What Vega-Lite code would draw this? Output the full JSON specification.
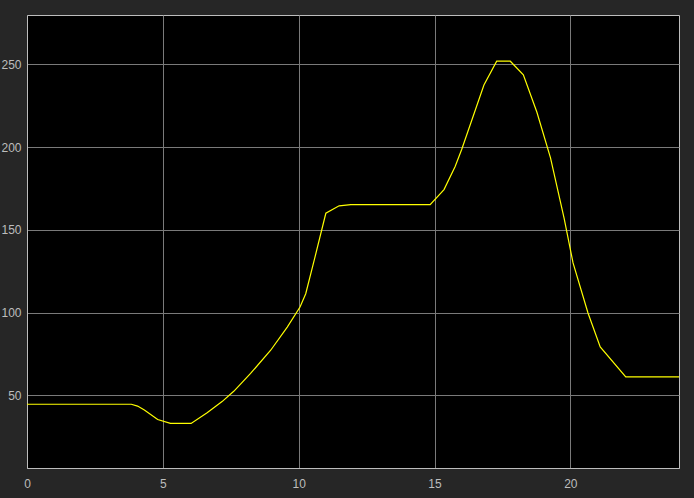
{
  "$schema": "https://vega.github.io/schema/vega-lite/v6.json",
  "width": 652,
  "height": 453,
  "autosize": {"type": "none"},
  "padding": {"left": 27, "top": 15, "right": 15, "bottom": 30},
  "background": "#262626",
  "config": {
    "view": {"fill": "#000000", "stroke": "#bdbdbd", "strokeWidth": 1},
    "axis": {
      "labelFont": "Liberation Sans",
      "labelFontSize": 12,
      "labelColor": "#bdbdbd",
      "gridColor": "#7a7a7a",
      "gridWidth": 1,
      "gridOpacity": 1,
      "domainColor": "#bdbdbd",
      "ticks": false,
      "title": null
    }
  },
  "data": {
    "values": [
      {"t": 0, "v": 44.7},
      {"t": 3.84, "v": 44.7},
      {"t": 4.07, "v": 43.6},
      {"t": 4.32, "v": 41.2},
      {"t": 4.81, "v": 35.5},
      {"t": 5.28, "v": 33.1},
      {"t": 6.04, "v": 33.1},
      {"t": 6.63, "v": 39.5},
      {"t": 7.18, "v": 46.3},
      {"t": 7.61, "v": 52.5},
      {"t": 8.23, "v": 63.3},
      {"t": 8.97, "v": 77.3},
      {"t": 9.58, "v": 91.3},
      {"t": 10.05, "v": 103.4},
      {"t": 10.26, "v": 111.4},
      {"t": 10.57, "v": 131.5},
      {"t": 11.0, "v": 160.0},
      {"t": 11.49, "v": 164.5},
      {"t": 11.92, "v": 165.2},
      {"t": 14.84, "v": 165.2},
      {"t": 15.35, "v": 174.3},
      {"t": 15.76, "v": 188.2},
      {"t": 16.0, "v": 198.5},
      {"t": 16.82, "v": 237.4},
      {"t": 17.29, "v": 251.8},
      {"t": 17.79, "v": 251.8},
      {"t": 18.27, "v": 243.6},
      {"t": 18.77, "v": 221.0},
      {"t": 19.27, "v": 193.4},
      {"t": 19.77, "v": 157.0},
      {"t": 20.1, "v": 130.0},
      {"t": 20.65, "v": 99.8},
      {"t": 21.1, "v": 79.3},
      {"t": 22.04, "v": 61.2},
      {"t": 24, "v": 61.2}
    ]
  },
  "mark": {"type": "line", "color": "#ffff00", "strokeWidth": 1.2, "clip": true},
  "encoding": {
    "x": {
      "field": "t",
      "type": "quantitative",
      "scale": {"domain": [0, 24], "nice": false, "zero": false},
      "axis": {"values": [0, 5, 10, 15, 20], "labelPadding": 10, "labelFlush": false}
    },
    "y": {
      "field": "v",
      "type": "quantitative",
      "scale": {"domain": [6.2, 279.7], "nice": false, "zero": false},
      "axis": {"values": [50, 100, 150, 200, 250], "labelPadding": 6}
    }
  }
}
